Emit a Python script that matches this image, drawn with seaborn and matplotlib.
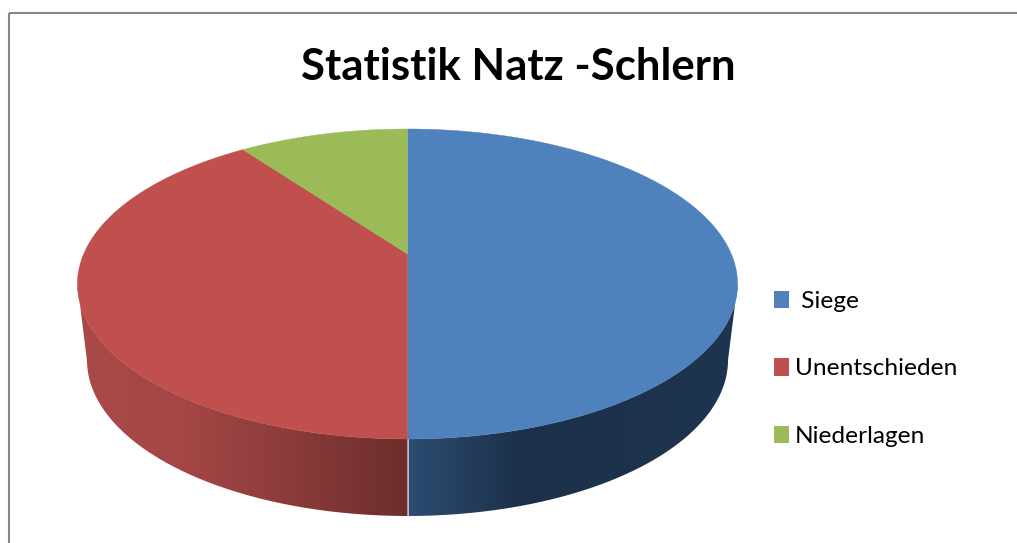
import numpy as np
import matplotlib
matplotlib.use("Agg")
import matplotlib.pyplot as plt
from matplotlib.colors import LinearSegmentedColormap
from matplotlib.patches import Patch, PathPatch, Rectangle
from matplotlib.path import Path
import seaborn as sns

# Data
title = "Statistik Natz -Schlern"
categories = ["Siege", "Unentschieden", "Niederlagen"]
legend_labels = [" Siege", "Unentschieden", "Niederlagen"]
values = [50, 40, 10]
colors = ["#4F81BD", "#C0504D", "#9BBB59"]

sns.set_theme(style="white")
plt.rcParams["font.family"] = ["Lato", "DejaVu Sans"]
palette = sns.color_palette(colors)

W, H = 1017, 543
fig = plt.figure(figsize=(W / 100, H / 100), dpi=100, facecolor="white")
ax = fig.add_axes([0, 0, 1, 1])
ax.set_xlim(0, W)
ax.set_ylim(H, 0)
ax.axis("off")

# Perspective projection of the unit circle
CX, CY = 407.5, 254.0
K, A, C = 0.1935, 149.2, 323.8


def project(theta):
    """theta measured clockwise from 12 o'clock, radians."""
    x, y = np.sin(theta), np.cos(theta)
    d = 1 + K * y
    return CX + C * x / d, CY - A * y / d


def bottom_project(theta):
    x, y = project(theta)
    ex, ey = 407.5, 284.0
    return ex + (x - ex) * (320.5 / 330.0), 360.0 + (y - ey) * (156.0 / 155.0)


# Side wall, split where the first slice ends (front of the pie)
split = np.pi * 2 * values[0] / sum(values)
widest = np.arccos(-K)
th_r = np.linspace(widest, split, 300)
th_l = np.linspace(split, 2 * np.pi - widest, 300)
tx_r, ty_r = project(th_r)
bx_r, by_r = bottom_project(th_r)
tx_l, ty_l = project(th_l)
bx_l, by_l = bottom_project(th_l)


def gradient_side(xs, ys, stops, x0, x1):
    cmap = LinearSegmentedColormap.from_list("side", stops)
    grad = np.linspace(0, 1, 256).reshape(1, -1)
    im = ax.imshow(grad, cmap=cmap, extent=[x0, x1, 520, 250], aspect="auto", zorder=1)
    patch = PathPatch(Path(np.column_stack([xs, ys])), transform=ax.transData,
                      facecolor="none", edgecolor="none")
    ax.add_patch(patch)
    im.set_clip_path(patch)


gradient_side(np.r_[tx_r, bx_r[::-1]], np.r_[ty_r, by_r[::-1]],
              ["#2D4C72", "#1C3149", "#1D334D", "#1E354F"], 407.5, 740)
gradient_side(np.r_[tx_l, bx_l[::-1]], np.r_[ty_l, by_l[::-1]],
              ["#6C2D2B", "#893B39", "#A34645", "#A94A48"], 407.5, 75)

ax.set_xlim(0, W)
ax.set_ylim(H, 0)

# Top surface, wedges from the values
fractions = np.array(values, dtype=float) / sum(values)
edges = np.r_[0, np.cumsum(fractions)] * 2 * np.pi
for start, end, col in zip(edges[:-1], edges[1:], palette):
    th = np.linspace(start, end, 400)
    xs, ys = project(th)
    ax.fill(np.r_[CX, xs], np.r_[CY, ys], color=col, lw=0.3, zorder=2)

# Light seam on the front of the wall
sx0, sy0 = project(split)
sx1, sy1 = bottom_project(split)
ax.plot([sx0, sx1], [sy0, sy1], color="#C4C4C4", lw=0.7, zorder=3)

# Title
ax.text(518.5, 67.5, title, fontsize=31.5, fontweight="bold", color="black",
        ha="center", va="center", zorder=4)

# Legend
handles = [Patch(facecolor=c, edgecolor="none") for c in palette]
ax.legend(handles, legend_labels, loc="upper left", bbox_to_anchor=(774 / W, 1 - 290.5 / H),
          bbox_transform=fig.transFigure, frameon=False, fontsize=17.6,
          handlelength=0.61, handleheight=0.72, handletextpad=0.25,
          labelspacing=1.9, borderpad=0, borderaxespad=0, labelcolor="black")

# Chart frame
ax.add_patch(Rectangle((8.8, 12.5), 1100, 600, facecolor="none", edgecolor="#868686",
                       lw=1.5, zorder=5, clip_on=True))

fig.savefig("out.png", dpi=100, facecolor="white")
